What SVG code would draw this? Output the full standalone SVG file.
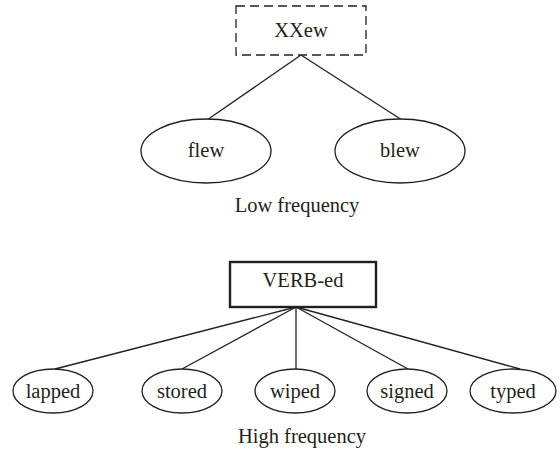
<svg xmlns="http://www.w3.org/2000/svg" width="560" height="461" viewBox="0 0 560 461">
<style>
text{font-family:"Liberation Serif","Times New Roman",serif;font-size:20.5px;fill:#231f20;text-anchor:middle}
.n{fill:#fff;stroke:#231f20;stroke-width:1.3}
.d{stroke-dasharray:9,5}
.b{stroke-width:2.4}
.c line{stroke:#231f20;stroke-width:1.3}
</style>
<rect width="560" height="461" fill="#fff"/>
<g class="c" id="connectors">
<line x1="301" y1="55" x2="207" y2="120"/>
<line x1="301" y1="55" x2="402" y2="120"/>
<line x1="296" y1="307" x2="55" y2="369"/>
<line x1="296" y1="307" x2="182" y2="369"/>
<line x1="296" y1="307" x2="296" y2="369"/>
<line x1="296" y1="307" x2="408" y2="369"/>
<line x1="296" y1="307" x2="520" y2="369"/>
</g>
<g id="xxew"><rect class="n d" x="236" y="6" width="130" height="49"/><text x="301" y="37">XXew</text></g>
<g id="flew"><ellipse class="n" cx="206" cy="151" rx="65" ry="32"/><text x="206" y="157">flew</text></g>
<g id="blew"><ellipse class="n" cx="400" cy="151" rx="65" ry="32"/><text x="400" y="157">blew</text></g>
<text x="297" y="212">Low frequency</text>
<g id="verb"><rect class="n b" x="230" y="262" width="146" height="45"/><text x="303" y="287">VERB-ed</text></g>
<g id="lapped"><ellipse class="n" cx="53" cy="391" rx="40" ry="22"/><text x="53" y="398">lapped</text></g>
<g id="stored"><ellipse class="n" cx="182" cy="391" rx="40" ry="22"/><text x="182" y="398">stored</text></g>
<g id="wiped"><ellipse class="n" cx="295" cy="391" rx="40" ry="22"/><text x="295" y="398">wiped</text></g>
<g id="signed"><ellipse class="n" cx="407" cy="391" rx="40" ry="22"/><text x="407" y="398">signed</text></g>
<g id="typed"><ellipse class="n" cx="513" cy="391" rx="43" ry="22"/><text x="513" y="398">typed</text></g>
<text x="302" y="443">High frequency</text>
</svg>
